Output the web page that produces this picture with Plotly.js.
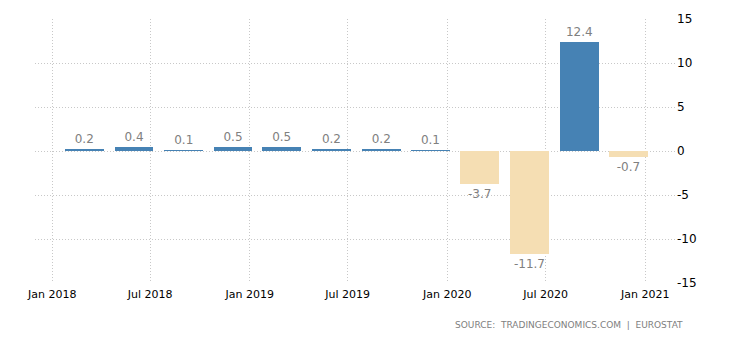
<!DOCTYPE html>
<html>
<head>
<meta charset="utf-8">
<script src="https://cdn.plot.ly/plotly-3.0.1.min.js"></script>
<style>html,body{margin:0;padding:0;background:#fff;}#chart{width:730px;height:340px;}</style>
</head>
<body>
<div id="chart"></div>
<script>
// Quarterly GDP growth (QoQ %), plotted at the bar dates
const dates = ["2018-03-01","2018-06-01","2018-09-01","2018-12-01",
               "2019-03-01","2019-06-01","2019-09-01","2019-12-01",
               "2020-03-01","2020-06-01","2020-09-01","2020-12-01"];
const values = [0.2, 0.4, 0.1, 0.5, 0.5, 0.2, 0.2, 0.1, -3.7, -11.7, 12.4, -0.7];
const yTicks = [-15, -10, -5, 0, 5, 10, 15];
const sourceText = "SOURCE:  TRADINGECONOMICS.COM  |  EUROSTAT";

const posColor = "#4682B4";
const negColor = "#F5DEB3";
const dayMs = 86400000;

const trace = {
  type: "bar",
  x: dates,
  y: values,
  width: dates.map(() => 72 * dayMs),
  marker: {color: values.map(v => v >= 0 ? posColor : negColor)},
  text: values.map(v => v.toFixed(1)),
  textposition: "outside",
  textfont: {family: "DejaVu Sans", size: 12, color: "#808080"},
  cliponaxis: false,
  hoverinfo: "x+y"
};

const layout = {
  width: 730, height: 340,
  margin: {l: 35, r: 55, t: 19, b: 57},
  paper_bgcolor: "#fff", plot_bgcolor: "#fff",
  showlegend: false,
  font: {family: "DejaVu Sans", size: 11, color: "#000"},
  xaxis: {
    type: "date",
    range: ["2017-11-30", "2021-02-25"],
    tick0: "2018-01-01", dtick: "M6", tickformat: "%b %Y",
    showgrid: true, gridcolor: "#c8c8c8", griddash: "1px,2px", gridwidth: 1,
    zeroline: false, showline: false, ticks: "",
    ticklabelstandoff: 3,
    tickfont: {family: "DejaVu Sans", size: 11, color: "#000"}
  },
  yaxis: {
    side: "right",
    range: [-15, 15],
    tickvals: yTicks,
    ticktext: yTicks.map(String),
    showgrid: true, gridcolor: "#c8c8c8", griddash: "1px,2px", gridwidth: 1,
    zeroline: false, showline: false, ticks: "",
    ticklabelstandoff: 1,
    tickfont: {family: "DejaVu Sans", size: 12, color: "#000"}
  },
  bargap: 0,
  annotations: [{
    text: sourceText,
    xref: "paper", yref: "paper",
    x: 1.0156, y: -0.159, xanchor: "right", yanchor: "middle",
    showarrow: false,
    font: {family: "DejaVu Sans", size: 9, color: "#808080"}
  }]
};

Plotly.newPlot("chart", [trace], layout, {displayModeBar: false, staticPlot: true});
</script>
</body>
</html>
